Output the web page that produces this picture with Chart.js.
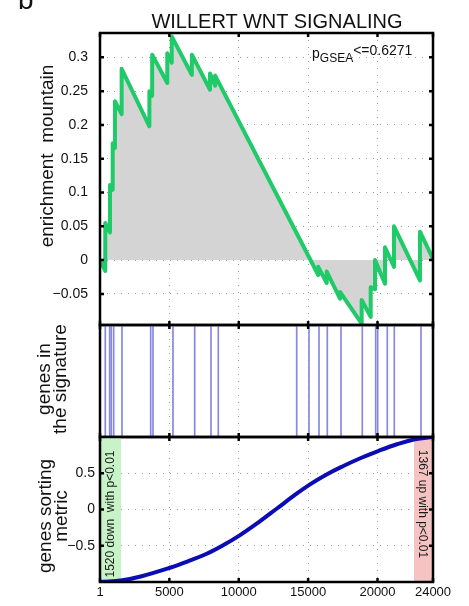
<!DOCTYPE html>
<html>
<head>
<meta charset="utf-8">
<script src="https://cdn.jsdelivr.net/npm/chart.js@4.4.1/dist/chart.umd.min.js"></script>
<style>
  body { margin: 0; background: #fff; }
  #wrap { position: relative; width: 469px; height: 606px; overflow: hidden;
          font-family: "Liberation Sans", Arial, sans-serif; color: #111; }
  #wrap canvas { position: absolute; left: 0; top: 0; }
  .lbl { position: absolute; white-space: pre; }
  .rot { transform: translate(-50%, -50%) rotate(-90deg); text-align: center;
         font-size: 19px; line-height: 16px; }
</style>
</head>
<body>
<div id="wrap">
  <canvas id="mountain" width="469" height="606"></canvas>
  <canvas id="hits" width="469" height="606"></canvas>
  <canvas id="metric" width="469" height="606"></canvas>

  <div class="lbl" style="left:18px;top:-14px;font-size:28px;line-height:28px;">b</div>
  <div class="lbl" id="title" style="left:277px;top:11px;font-size:20px;line-height:20px;transform:translateX(-50%);"></div>
  <div class="lbl" style="left:312px;top:43px;font-size:14px;line-height:14px;">p<span style="font-size:12px;vertical-align:-4px;">GSEA</span><span style="vertical-align:3px;">&lt;=0.6271</span></div>

  <div class="lbl rot" style="left:47px;top:156px;">enrichment  mountain</div>
  <div class="lbl rot" style="left:52px;top:379px;">genes in
the signature</div>
  <div class="lbl rot" style="left:53px;top:516px;">genes sorting
metric</div>
</div>

<script>
// ---- data ----
const chartTitle = 'WILLERT WNT SIGNALING';
const totalGenes = 24000;
const xTicks = [1, 5000, 10000, 15000, 20000, 24000];
const xTickLabels = ['1', '5000', '10000', '15000', '20000', '24000'];

// running enrichment score (vertices of the green line, jumps at hits)
const mountainRank = [1, 380, 380, 720, 720, 915, 915, 1080, 1080, 1560, 1560,
  3560, 3560, 3760, 3760, 4850, 4850, 5170, 5170, 6620, 6620, 7930, 7930, 8300, 8300,
  15730, 15730, 16340, 16340, 17300, 17300, 18860, 18860, 19510, 19510, 19820, 19820,
  20540, 20540, 21190, 21190, 23060, 23060, 24000];
const mountainScore = [0.0, -0.016, 0.055, 0.041, 0.111, 0.104, 0.173, 0.166, 0.235, 0.216, 0.283,
  0.198, 0.250, 0.243, 0.304, 0.262, 0.306, 0.292, 0.331, 0.274, 0.304, 0.252, 0.276, 0.258, 0.273,
  -0.022, -0.010, -0.034, -0.017, -0.057, -0.047, -0.094, -0.059, -0.084, -0.040, -0.043, 0.000,
  -0.035, 0.019, -0.010, 0.050, -0.030, 0.042, 0.002];
const mountainYTicks = [-0.05, 0, 0.05, 0.1, 0.15, 0.2, 0.25, 0.3];
const mountainYLabels = ['\u22120.05', '0', '0.05', '0.1', '0.15', '0.2', '0.25', '0.3'];

// positions of the signature genes in the ranked list
const hitRanks = [382, 699, 814, 987, 1586, 3654, 3820, 5261, 6825, 8000, 8526,
  14177, 15063, 15784, 16382, 17369, 18905, 19870, 20014, 20706, 21211, 23135];

// sorting metric curve
const metricRank = [1, 1610, 3000, 5090, 6400, 7690, 8900, 10040, 11400, 12730, 13900,
  15080, 16300, 17540, 18800, 20090, 21400, 22700, 24000];
const metricValue = [-1.0, -0.975, -0.92, -0.80, -0.71, -0.61, -0.49, -0.36, -0.18, 0.01, 0.18,
  0.34, 0.48, 0.60, 0.71, 0.81, 0.90, 0.97, 1.0];
const metricYTicks = [-0.5, 0, 0.5];
const metricYLabels = ['\u22120.5', '0', '0.5'];

const downCount = 1520;
const upCount = 1367;
const downLabel = '1520 down  with p<0.01';
const upLabel = '1367 up with p<0.01';

document.getElementById('title').textContent = chartTitle;

Chart.defaults.font.family = '"Liberation Sans", Arial, sans-serif';
Chart.defaults.color = '#111';

const dotted = { display: false, dash: [1, 6] };
const gridColor = '#9a9a9a';

// frame, inward ticks and the two shaded bands
const framePlugin = {
  id: 'frame',
  beforeDatasetsDraw(chart, args, opts) {
    if (!opts.bands) return;
    const { ctx, chartArea: a, scales } = chart;
    const x = scales.x;
    const d0 = x.getPixelForValue(1), d1 = x.getPixelForValue(1 + downCount);
    const u0 = x.getPixelForValue(totalGenes - upCount), u1 = x.getPixelForValue(totalGenes);
    ctx.save();
    ctx.fillStyle = '#c8f3c8';
    ctx.fillRect(d0, a.top, d1 - d0, a.bottom - a.top);
    ctx.fillStyle = '#f6c3c3';
    ctx.fillRect(u0, a.top, u1 - u0, a.bottom - a.top);
    ctx.fillStyle = '#1a1a1a';
    ctx.font = '12px "Liberation Sans", Arial, sans-serif';
    ctx.textAlign = 'center';
    ctx.textBaseline = 'middle';
    ctx.translate((d0 + d1) / 2, 514);
    ctx.rotate(-Math.PI / 2);
    ctx.fillText(downLabel, 0, 0);
    ctx.restore();
    ctx.save();
    ctx.fillStyle = '#1a1a1a';
    ctx.font = '12px "Liberation Sans", Arial, sans-serif';
    ctx.textAlign = 'center';
    ctx.textBaseline = 'middle';
    ctx.translate((u0 + u1) / 2 - 1, 504);
    ctx.rotate(Math.PI / 2);
    ctx.fillText(upLabel, 0, 0);
    ctx.restore();
  },
  afterDraw(chart, args, opts) {
    const { ctx, chartArea: a, scales } = chart;
    ctx.save();
    ctx.strokeStyle = '#000';
    ctx.lineWidth = 2.5;
    ctx.strokeRect(a.left, a.top, a.right - a.left, a.bottom - a.top);
    ctx.beginPath();
    xTicks.forEach(v => {
      const px = scales.x.getPixelForValue(v);
      ctx.moveTo(px, a.top); ctx.lineTo(px, a.top + 4);
      ctx.moveTo(px, a.bottom); ctx.lineTo(px, a.bottom - 4);
    });
    (opts.yTicks || []).forEach(v => {
      const py = scales.y.getPixelForValue(v);
      ctx.moveTo(a.left, py); ctx.lineTo(a.left + 4, py);
      ctx.moveTo(a.right, py); ctx.lineTo(a.right - 4, py);
    });
    ctx.stroke();
    ctx.restore();
  }
};

function xScale(showLabels) {
  return {
    type: 'linear', min: 1, max: totalGenes, offset: false,
    afterBuildTicks: s => { s.ticks = xTicks.map(v => ({ value: v })); },
    afterFit: s => { s.height = showLabels ? 24 : 0; },
    grid: {
      drawTicks: false, lineWidth: 1, offset: false,
      color: c => (c.tick && (c.tick.value <= 1 || c.tick.value >= totalGenes)) ? 'rgba(0,0,0,0)' : gridColor
    },
    border: dotted,
    ticks: {
      display: showLabels, padding: 3, maxRotation: 0, autoSkip: false,
      font: { size: 13 },
      callback: (v, i) => xTickLabels[i]
    }
  };
}

function yScale(min, max, ticks, labels, pad, showGrid) {
  return {
    type: 'linear', min: min, max: max,
    afterBuildTicks: s => { s.ticks = ticks.map(v => ({ value: v })); },
    afterFit: s => { s.width = 100; },
    grid: { display: showGrid, drawTicks: false, color: gridColor, lineWidth: 1 },
    border: dotted,
    ticks: {
      display: labels.length > 0, padding: pad, font: { size: 14 },
      callback: (v, i) => labels[i]
    }
  };
}

function baseOptions(top, bottom, scales, plug) {
  return {
    responsive: false, animation: false, events: [],
    layout: { padding: { top: top, bottom: bottom, left: 0, right: 36 } },
    plugins: { legend: { display: false }, tooltip: { enabled: false }, frame: plug },
    scales: scales
  };
}

// top panel: enrichment mountain
new Chart(document.getElementById('mountain'), {
  type: 'line',
  data: {
    datasets: [{
      data: mountainRank.map((r, i) => ({ x: r, y: mountainScore[i] })),
      borderColor: '#1fca68', borderWidth: 4, backgroundColor: '#d4d4d4',
      fill: 'origin', pointRadius: 0, tension: 0, borderJoinStyle: 'round'
    }]
  },
  options: baseOptions(33, 606 - 325, {
    x: xScale(false),
    y: yScale(-0.096, 0.336, mountainYTicks, mountainYLabels, 12, true)
  }, { yTicks: mountainYTicks }),
  plugins: [framePlugin]
});

// middle panel: genes in the signature
new Chart(document.getElementById('hits'), {
  type: 'bar',
  data: {
    datasets: [{
      data: hitRanks.map(r => ({ x: r, y: 1 })),
      backgroundColor: '#8585e2', barThickness: 1, grouped: false
    }]
  },
  options: baseOptions(325, 606 - 437, {
    x: xScale(false),
    y: yScale(0, 1, [], [], 5, false)
  }, {}),
  plugins: [framePlugin]
});

// bottom panel: gene sorting metric
new Chart(document.getElementById('metric'), {
  type: 'line',
  data: {
    datasets: [{
      data: metricRank.map((r, i) => ({ x: r, y: metricValue[i] })),
      borderColor: '#0c0cb4', borderWidth: 4, pointRadius: 0,
      tension: 0.4, fill: false
    }]
  },
  options: baseOptions(437, 0, {
    x: xScale(true),
    y: yScale(-1, 1, metricYTicks, metricYLabels, 5, true)
  }, { yTicks: metricYTicks, bands: true }),
  plugins: [framePlugin]
});
</script>
</body>
</html>
